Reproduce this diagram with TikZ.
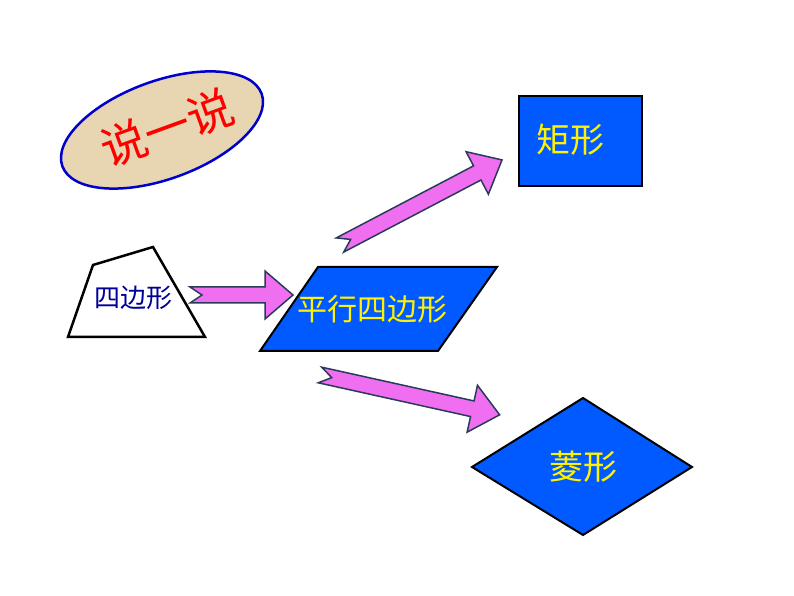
\documentclass[tikz,border=0pt]{standalone}
\usepackage{fontspec}
\setmainfont{Noto Sans CJK SC}
\usetikzlibrary{shapes.geometric}
\definecolor{fblue}{RGB}{0,90,255}
\definecolor{pinkar}{RGB}{240,110,240}
\definecolor{arline}{RGB}{40,60,90}
\definecolor{tan}{RGB}{232,214,178}
\tikzset{notched/.style={fill=pinkar,draw=arline,line width=1.5pt,line join=miter},
 shapeb/.style={fill=fblue,draw=black,line width=2pt},
 ytext/.style={text=yellow}}
\newcommand\notcharrow[4]{% x,y,angle,length
 \begin{scope}[shift={(#1,#2)},rotate=#3]
 \draw[notched] (0,8) -- (#4-28,8) -- (#4-28,24) -- (#4,0) -- (#4-28,-24) -- (#4-28,-8) -- (0,-8) -- (12,0) -- cycle;
 \end{scope}}
\begin{document}
\begin{tikzpicture}[x=1pt,y=1pt]
\useasboundingbox (0,0) rectangle (794,596);
\node[ellipse,minimum width=212,minimum height=98,fill=tan,draw=blue!80!black,line width=2.5pt,rotate=20] (e) at (162,466) {};
\node[rotate=20,text=red,inner sep=0pt,font=\fontsize{46}{46}\selectfont] (s) at (167,468) {说一说};
\draw[fill=white,draw=black,line width=2.5pt] (93,331) -- (153,349) -- (205,259) -- (68,259) -- cycle;
\node[text=blue!60!black,font=\fontsize{26}{26}\selectfont] (q) at (133,298) {四边形};
\draw[shapeb] (318,329) -- (497,329) -- (438,245) -- (260,245) -- cycle;
\node[ytext,font=\fontsize{30}{30}\selectfont] (p) at (372,287) {平行四边形};
\draw[shapeb] (519,500) rectangle (642,410);
\node[ytext,font=\fontsize{34}{34}\selectfont] (r) at (570,456) {矩形};
\draw[shapeb] (472,129) -- (583,198) -- (692,129) -- (583,61) -- cycle;
\node[ytext,font=\fontsize{34}{34}\selectfont] (d) at (583,129) {菱形};
\notcharrow{190}{301}{0}{103}
\notcharrow{340}{351}{27.7}{183}
\notcharrow{320}{221}{-12.5}{184}
\end{tikzpicture}
\end{document}
